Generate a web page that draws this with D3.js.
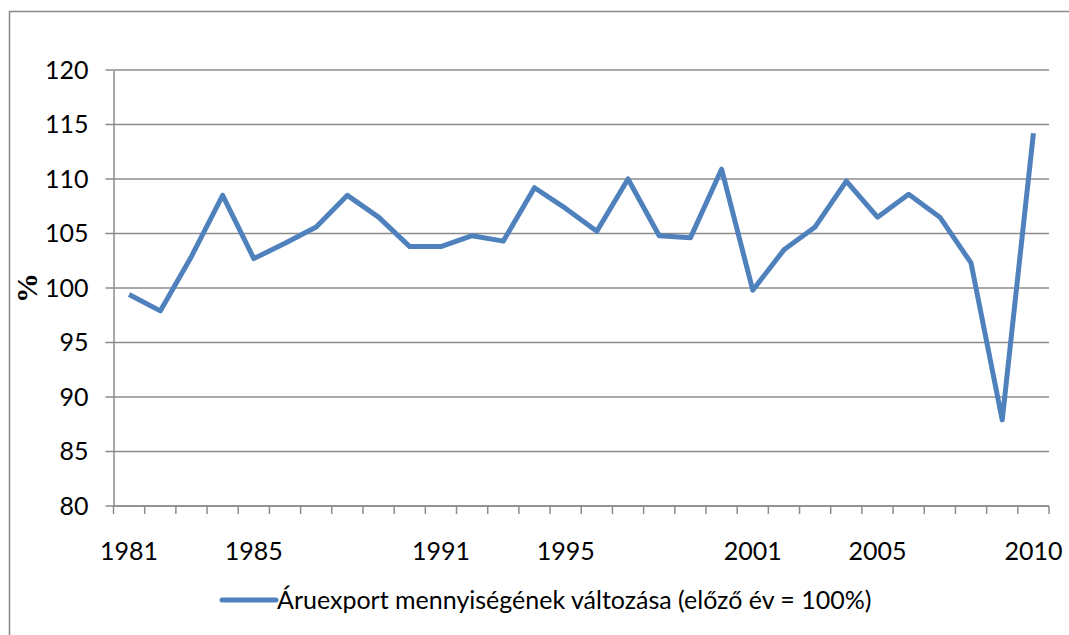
<!DOCTYPE html>
<html>
<head>
<meta charset="utf-8">
<script src="https://cdn.jsdelivr.net/npm/d3@7"></script>
<style>
  body { margin: 0; background: #fff; }
  svg text { font-family: Lato, "Open Sans", sans-serif; fill: #000; }
</style>
</head>
<body>
<script>
// data
var years = ["1981","1982","1983","1984","1985","1986","1987","1988","1989","1990",
             "1991","1992","1993","1994","1995","1996","1997","1998","1999","2000",
             "2001","2002","2003","2004","2005","2006","2007","2008","2009","2010"];
var values = [99.4, 97.9, 102.9, 108.5, 102.7, 104.1, 105.6, 108.5, 106.5, 103.8,
              103.8, 104.8, 104.3, 109.2, 107.3, 105.2, 110.0, 104.8, 104.6, 110.9,
              99.8, 103.5, 105.6, 109.8, 106.5, 108.6, 106.5, 102.3, 87.9, 114.2];
var shownYears = ["1981","1985","1991","1995","2001","2005","2010"];
var yTicks = [80, 85, 90, 95, 100, 105, 110, 115, 120];
var seriesName = "Áruexport mennyiségének változása (előző év = 100%)";

var W = 1069, H = 635;
var margin = {top: 70, right: 20, bottom: 129, left: 113.5};
var width = 1049 - margin.left;
var height = 506 - margin.top;

var svg = d3.select("body").append("svg")
    .attr("width", W)
    .attr("height", H);

// outer frame (only top and left visible)
svg.append("rect")
    .attr("x", 9.5).attr("y", 11.5)
    .attr("width", W + 20).attr("height", H + 20)
    .attr("fill", "none")
    .attr("stroke", "#888")
    .attr("stroke-width", 1.5);

var g = svg.append("g")
    .attr("transform", "translate(" + margin.left + "," + margin.top + ")");

var x = d3.scaleBand().domain(years).range([0, width]);
var y = d3.scaleLinear().domain([80, 120]).range([height, 0]);

// gridlines
g.append("g").selectAll("line")
    .data(yTicks)
    .enter().append("line")
    .attr("x1", -8).attr("x2", width)
    .attr("y1", function(d) { return y(d); })
    .attr("y2", function(d) { return y(d); })
    .attr("stroke", "#8c8c8c")
    .attr("stroke-width", 1.5);

// y axis
var yAxis = d3.axisLeft(y).tickValues(yTicks).tickSize(0).tickPadding(25);
var yG = g.append("g").call(yAxis);
yG.select(".domain").attr("stroke", "#8c8c8c").attr("stroke-width", 1.5);
yG.selectAll("text").style("font-size", "25px");

// x axis: ticks at category boundaries
var xG = g.append("g").attr("transform", "translate(0," + height + ")");
xG.append("line")
    .attr("x1", 0).attr("x2", width)
    .attr("stroke", "#8c8c8c").attr("stroke-width", 1.5);
xG.selectAll("line.tk")
    .data(years.concat(["end"]))
    .enter().append("line")
    .attr("class", "tk")
    .attr("x1", function(d, i) { return i * x.step(); })
    .attr("x2", function(d, i) { return i * x.step(); })
    .attr("y1", 0).attr("y2", 8)
    .attr("stroke", "#8c8c8c").attr("stroke-width", 1.5);
xG.selectAll("text")
    .data(shownYears)
    .enter().append("text")
    .attr("x", function(d) { return x(d) + x.bandwidth() / 2; })
    .attr("y", 54)
    .attr("text-anchor", "middle")
    .style("font-size", "25px")
    .text(function(d) { return d; });

// y axis title
svg.append("text")
    .attr("transform", "translate(37,288) rotate(-90)")
    .attr("text-anchor", "middle")
    .style("font-family", "'Liberation Serif', serif")
    .style("font-weight", "bold")
    .style("font-size", "30px")
    .text("%");

// line
var line = d3.line()
    .x(function(d, i) { return x(years[i]) + x.bandwidth() / 2; })
    .y(function(d) { return y(d); });

g.append("path")
    .datum(values)
    .attr("d", line)
    .attr("fill", "none")
    .attr("stroke", "#4f81bd")
    .attr("stroke-width", 5)
    .attr("stroke-linejoin", "round");

// legend
var leg = svg.append("g").attr("transform", "translate(222,600)");
leg.append("line")
    .attr("x1", 0).attr("x2", 54)
    .attr("stroke", "#4f81bd")
    .attr("stroke-width", 5)
    .attr("stroke-linecap", "round");
leg.append("text")
    .attr("x", 55).attr("y", 9)
    .style("font-size", "25px")
    .text(seriesName);
</script>
</body>
</html>
